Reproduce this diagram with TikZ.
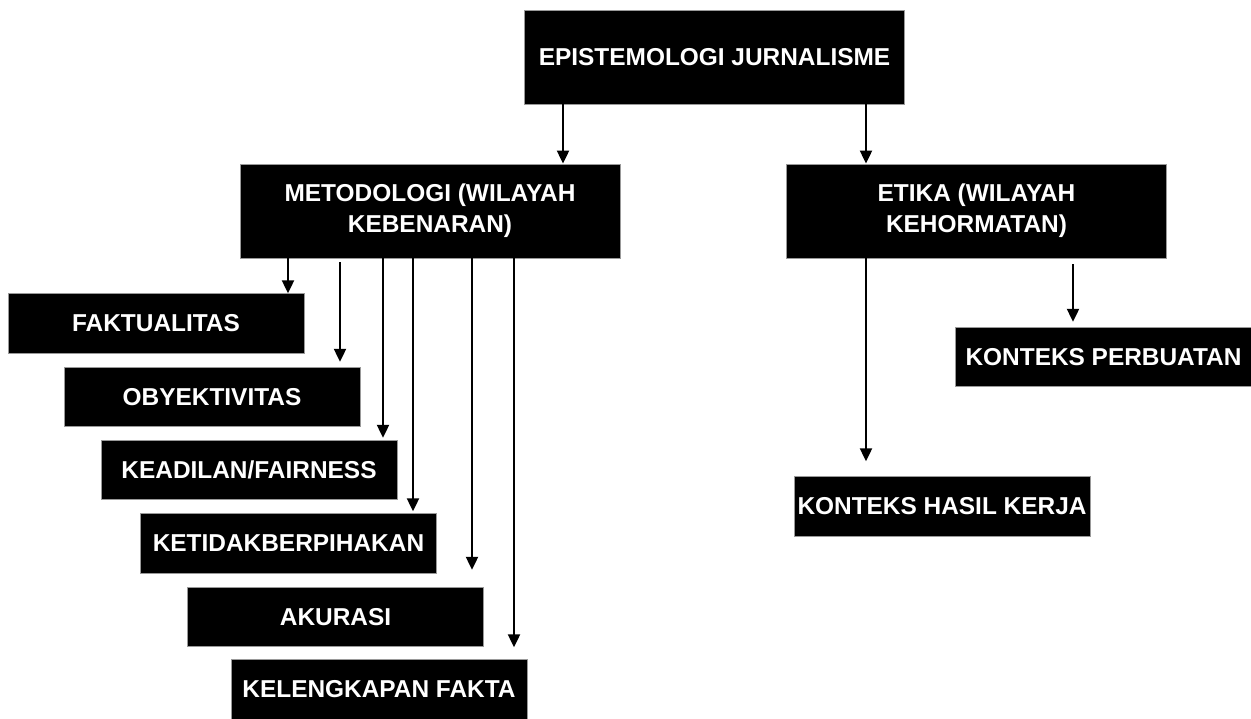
\documentclass[tikz,border=0pt]{standalone}
\usepackage{fontspec}
\setmainfont{Liberation Sans}
\usetikzlibrary{positioning, arrows.meta}
\tikzset{
    kotak/.style={fill=black, draw=black!40, line width=0.5pt, text=white, align=center, inner sep=0pt, font=\fontsize{13.9}{17.5}\selectfont\bfseries},
    besar/.style={kotak, minimum width=7.6cm, minimum height=1.88cm},
    kecil/.style={kotak, minimum width=5.92cm, minimum height=1.19cm},
    panah/.style={-{Triangle[width=2.4mm,length=2.6mm]}, line width=1.2pt}
}

\begin{document}
\begin{tikzpicture}[x=0.02cm, y=-0.02cm]
\useasboundingbox (0,0) rectangle (1251,719);
% kotak utama
\node[besar] (epi) at (714.5,57) {EPISTEMOLOGI JURNALISME};
\node[besar] (met) at (430,211) {METODOLOGI (WILAYAH\\KEBENARAN)};
\node[besar] (eti) at (976.5,211) {ETIKA (WILAYAH\\KEHORMATAN)};
% cabang metodologi
\node[kecil] (fak) at (156,323.5) {FAKTUALITAS};
\node[kecil] (oby) at (212,397) {OBYEKTIVITAS};
\node[kecil] (kea) at (249,470) {KEADILAN/FAIRNESS};
\node[kecil] (ket) at (288.5,543.5) {KETIDAKBERPIHAKAN};
\node[kecil] (aku) at (335.5,617) {AKURASI};
\node[kecil] (kel) at (379,689.5) {KELENGKAPAN FAKTA};
% cabang etika
\node[kecil] (per) at (1103.5,357) {KONTEKS PERBUATAN};
\node[kecil] (has) at (942,506.5) {KONTEKS HASIL KERJA};

\draw[panah] (epi.south -| 563,0) -- (met.north -| 563,0);
\draw[panah] (epi.south -| 866,0) -- (eti.north -| 866,0);
\foreach \tuj/\px/\pa/\pb in {fak/288/0/0, oby/340/4/5, kea/383/0/2, ket/413/0/2, aku/472/0/17, kel/514/0/12}
    \draw[panah, shorten <=\pa*0.2mm, shorten >=\pb*0.2mm] (met.south -| \px,0) -- (\tuj.north -| \px,0);
\draw[panah, shorten >=3mm] (eti.south -| 866,0) -- (has.north -| 866,0);
\draw[panah, shorten <=1.2mm, shorten >=1mm] (eti.south -| 1073,0) -- (per.north -| 1073,0);
\end{tikzpicture}
\end{document}
